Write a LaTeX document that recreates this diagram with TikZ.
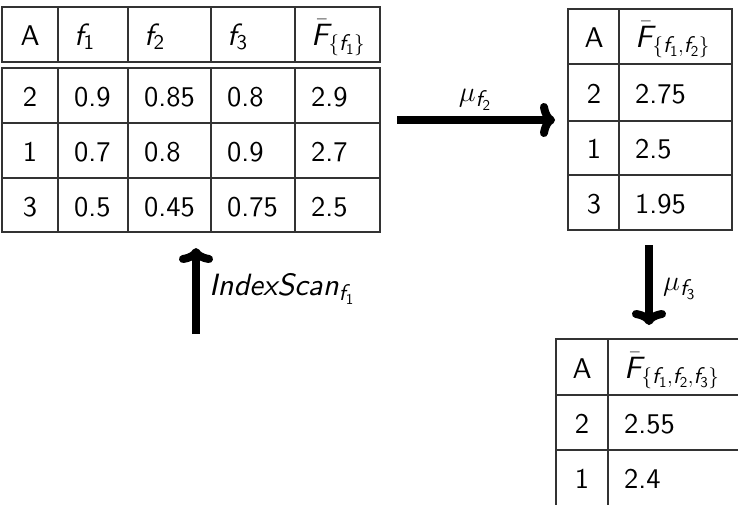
\documentclass[tikz,border=0pt]{standalone}
\usepackage{fix-cm}
\usetikzlibrary{arrows.meta}
% sans text and math letters from cmss10 at every size, greek stays as is
\DeclareFontFamily{OT1}{cmssx}{\hyphenchar\font=-1}
\DeclareFontShape{OT1}{cmssx}{m}{n}{<-> cmss10}{}
\DeclareFontShape{OT1}{cmssx}{m}{sl}{<-> s*[1.08] cmssi10}{}
\DeclareSymbolFont{sfdigits}{OT1}{cmssx}{m}{n}
\DeclareSymbolFont{sfletters}{OT1}{cmssx}{m}{sl}
\DeclareMathSymbol{a}{\mathalpha}{sfletters}{`a}
\DeclareMathSymbol{c}{\mathalpha}{sfletters}{`c}
\DeclareMathSymbol{d}{\mathalpha}{sfletters}{`d}
\DeclareMathSymbol{e}{\mathalpha}{sfletters}{`e}
\DeclareMathSymbol{f}{\mathalpha}{sfletters}{`f}
\DeclareMathSymbol{n}{\mathalpha}{sfletters}{`n}
\DeclareMathSymbol{x}{\mathalpha}{sfletters}{`x}
\DeclareMathSymbol{F}{\mathalpha}{sfletters}{`F}
\DeclareMathSymbol{I}{\mathalpha}{sfletters}{`I}
\DeclareMathSymbol{S}{\mathalpha}{sfletters}{`S}
\DeclareMathSymbol{1}{\mathalpha}{sfdigits}{`1}
\DeclareMathSymbol{2}{\mathalpha}{sfdigits}{`2}
\DeclareMathSymbol{3}{\mathalpha}{sfdigits}{`3}
\DeclareMathSizes{28.5}{28.5}{21}{15}

\tikzset{
  grid/.style={draw=black!80, line width=1.3pt},
  entry/.style={anchor=base west, inner sep=0pt},
  key/.style={anchor=base, inner sep=0pt},
  flow/.style={line width=8pt, -{To[round,length=15pt,width=34pt]}},
}

\begin{document}
\begin{tikzpicture}[x=1pt,y=-1pt,font=\fontencoding{OT1}\fontfamily{cmssx}\fontsize{28.5}{34}\selectfont]
		\clip (0,0) rectangle (738,504);
		% input table
		\draw[grid] (2,7) rectangle (380,62);
		\draw[grid] (2,68) rectangle (380,232);
		\foreach \x in {58,128,211,295}
			\draw[grid] (\x,7) -- (\x,62) (\x,68) -- (\x,232);
		\foreach \y in {123,178}
			\draw[grid] (2,\y) -- (380,\y);
		\node[key] (t1-h-a) at (30,45) {A};
		\node[entry] (t1-h-f1) at (74,45) {$f_1$};
		\node[entry] (t1-h-f2) at (144,45) {$f_2$};
		\node[entry] (t1-h-f3) at (227,45) {$f_3$};
		\node[entry] (t1-h-s) at (311,45) {$\bar{F}_{\{f_1\}}$};
		\foreach \a/\p/\q/\r/\s [count=\i] in {2/0.9/0.85/0.8/2.9,1/0.7/0.8/0.9/2.7,3/0.5/0.45/0.75/2.5}{
			\pgfmathsetmacro\yb{106+55*(\i-1)}
			\node[key] (t1-\i-a) at (30,\yb) {\a};
			\node[entry] (t1-\i-f1) at (74,\yb) {\p};
			\node[entry] (t1-\i-f2) at (144,\yb) {\q};
			\node[entry] (t1-\i-f3) at (227,\yb) {\r};
			\node[entry] (t1-\i-s) at (311,\yb) {\s};
		}
		% after mu f2
		\draw[grid] (568,9) rectangle (732,230);
		\draw[grid] (619,9) -- (619,230);
		\foreach \y in {64,121,175}
			\draw[grid] (568,\y) -- (732,\y);
		\node[key] (t2-h-a) at (594,47) {A};
		\node[entry] (t2-h-s) at (635,47) {$\bar{F}_{\{f_1,f_2\}}$};
		\foreach \a/\s [count=\i] in {2/2.75,1/2.5,3/1.95}{
			\pgfmathsetmacro\yb{103+55*(\i-1)}
			\node[key] (t2-\i-a) at (594,\yb) {\a};
			\node[entry] (t2-\i-s) at (635,\yb) {\s};
		}
		% after mu f3
		\draw[grid] (556,339) rectangle (742,506);
		\draw[grid] (608,339) -- (608,506);
		\foreach \y in {395,450}
			\draw[grid] (556,\y) -- (742,\y);
		\node[key] (t3-h-a) at (582,378) {A};
		\node[entry] (t3-h-s) at (624,378) {$\bar{F}_{\{f_1,f_2,f_3\}}$};
		\foreach \a/\s [count=\i] in {2/2.55,1/2.4}{
			\pgfmathsetmacro\yb{433+55*(\i-1)}
			\node[key] (t3-\i-a) at (582,\yb) {\a};
			\node[entry] (t3-\i-s) at (624,\yb) {\s};
		}
		% operators
		\coordinate (scanfrom) at (196,334);
		\coordinate (scanto) at (196,248);
		\coordinate (mu2from) at (397,120);
		\coordinate (mu2to) at (555,120);
		\coordinate (mu3from) at (649,245);
		\coordinate (mu3to) at (649,325);
		\draw[flow] (scanfrom) -- (scanto);
		\draw[flow] (mu2from) -- (mu2to);
		\draw[flow] (mu3from) -- (mu3to);
		\node[entry] (scan) at (209,295) {$IndexScan_{f_1}$};
		\node[key] (mu2) at (475,101) {$\mu_{f_2}$};
		\node[entry] (mu3) at (663,290) {$\mu_{f_3}$};
\end{tikzpicture}
\end{document}
